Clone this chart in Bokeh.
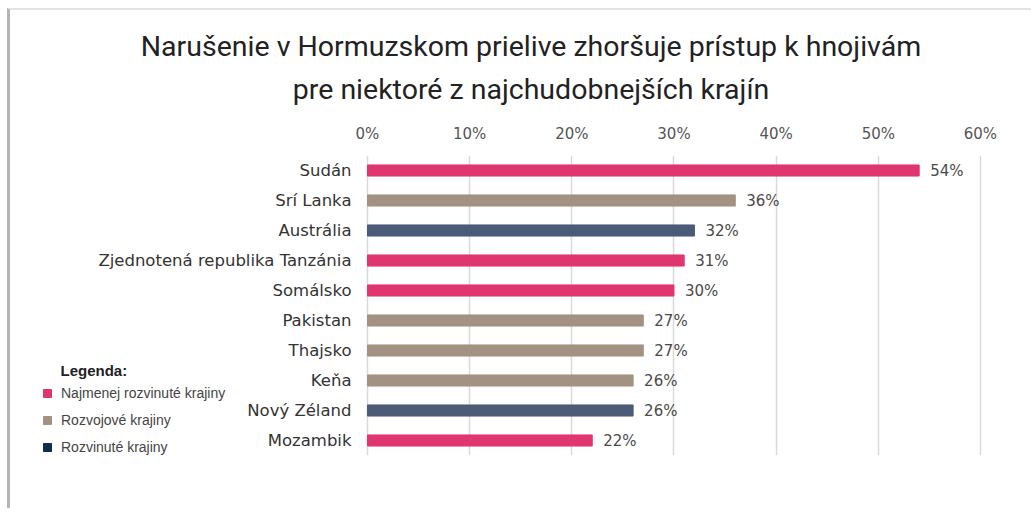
from bokeh.plotting import figure
from bokeh.models import (FactorRange, Range1d, FixedTicker, PrintfTickFormatter,
                          ColumnDataSource, Title, Legend, LegendItem, Label)
from bokeh.core.properties import value
from bokeh.embed import file_html
from bokeh.resources import INLINE

title_lines = ["Narušenie v Hormuzskom prielive zhoršuje prístup k hnojivám",
               "pre niektoré z najchudobnejších krajín"]
countries = ["Sudán", "Srí Lanka", "Austrália", "Zjednotená republika Tanzánia",
             "Somálsko", "Pakistan", "Thajsko", "Keňa", "Nový Zéland", "Mozambik"]
values = [54, 36, 32, 31, 30, 27, 27, 26, 26, 22]
groups = ["ldc", "dev", "adv", "ldc", "ldc", "dev", "dev", "dev", "adv", "ldc"]
x_ticks = [0, 10, 20, 30, 40, 50, 60]

group_names = {"ldc": "Najmenej rozvinuté krajiny",
               "dev": "Rozvojové krajiny",
               "adv": "Rozvinuté krajiny"}
bar_colors = {"ldc": "#e03670", "dev": "#a39282", "adv": "#4b5b78"}
legend_colors = {"ldc": "#e03670", "dev": "#a39282", "adv": "#0f2d52"}

src = ColumnDataSource(dict(
    country=countries,
    zero=[0] * len(countries),
    val=values,
    color=[bar_colors[g] for g in groups],
    label=[f"{v}%" for v in values],
))

# frame spans most of the canvas; the 0..60 % scale sits in its right part
p = figure(width=1024, height=500, output_backend="svg", toolbar_location=None,
           y_range=FactorRange(factors=list(reversed(countries))),
           x_range=Range1d(-33.28, 65.29), x_axis_location="above",
           min_border_left=17, min_border_right=0,
           min_border_top=145, min_border_bottom=55)
p.margin = (8, 0, 0, 7)
p.styles = {"border-left": "3px solid #b4b4b4", "border-top": "2px solid #e2e2e2"}
p.outline_line_color = None
p.background_fill_color = "white"
p.border_fill_color = "white"
p.yaxis.visible = False

p.hbar(y="country", right="val", left="zero", height=0.37, color="color", source=src)
p.text(x="val", y="country", text="label", source=src, x_offset=11,
       text_baseline="middle", text_align="left", text_font=value("DejaVu Sans"),
       text_font_size="15px", text_color="#4a4a4a")
# category labels, right-aligned against the 0 % line
p.text(x="zero", y="country", text="country", source=src, x_offset=-16,
       text_baseline="middle", text_align="right", text_font=value("DejaVu Sans"),
       text_font_size="16.5px", text_color="#333333")

xa = p.xaxis[0]
xa.ticker = FixedTicker(ticks=x_ticks)
xa.formatter = PrintfTickFormatter(format="%d%%")
xa.axis_line_color = None
xa.major_tick_line_color = None
xa.minor_tick_line_color = None
xa.major_label_standoff = 7
xa.major_label_text_font = "DejaVu Sans"
xa.major_label_text_font_size = "15px"
xa.major_label_text_color = "#555555"

p.ygrid.grid_line_color = None
p.xgrid.ticker = FixedTicker(ticks=x_ticks)
p.xgrid.grid_line_color = "#d9d9d9"
p.xgrid.grid_line_width = 1.5

# two title lines: the one added later sits further from the frame
t2 = Title(text=title_lines[1], align="center", text_font="Roboto",
           text_font_size="28.5px", text_font_style="normal", text_color="#222222",
           standoff=31)
t1 = Title(text=title_lines[0], align="center", text_font="Roboto",
           text_font_size="28.5px", text_font_style="normal", text_color="#222222",
           standoff=0)
try:
    t1.standoff = -14
except Exception:
    pass
p.add_layout(t2, "above")
p.add_layout(t1, "above")

# legend
items = []
for g in ["ldc", "dev", "adv"]:
    r = p.rect(x=[float("nan")], y=[countries[0]], width=1, height=0.3,
               color=legend_colors[g])
    items.append(LegendItem(label=group_names[g], renderers=[r]))
leg = Legend(items=items, location=(15, -1),
             label_text_font="Liberation Sans", label_text_font_size="14px",
             label_text_color="#444444", glyph_width=10, glyph_height=10,
             label_height=18, label_standoff=9, spacing=9, padding=0, margin=0,
             border_line_color=None, background_fill_alpha=0)
p.add_layout(leg, "center")
p.add_layout(Label(x=33, y=85, x_units="screen", y_units="screen", text="Legenda:",
                   text_font="Liberation Sans", text_font_style="bold",
                   text_font_size="15px", text_color="#222222", text_baseline="middle"))

open("out.html", "w").write(file_html(p, INLINE))
